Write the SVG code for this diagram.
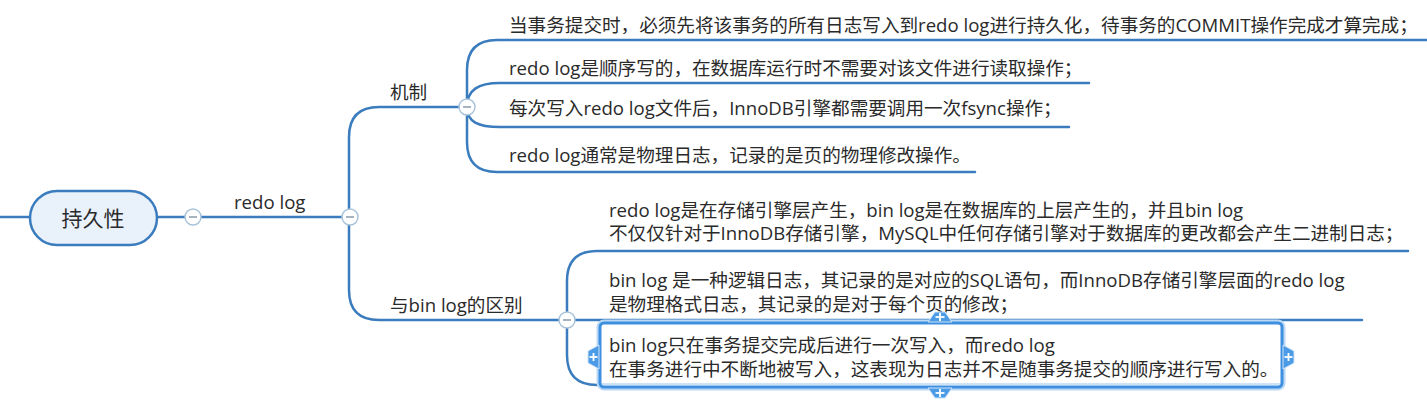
<svg xmlns="http://www.w3.org/2000/svg" width="1427" height="412" viewBox="0 0 1427 412">
<style>
.ln{fill:none;stroke:#3a7cbd;stroke-width:2.5;stroke-linecap:round}
.t{font-family:"Open Sans","Noto Sans CJK SC",sans-serif;font-size:18.6px;fill:#2a2a2a}
.lb{font-family:"Open Sans","Noto Sans CJK SC",sans-serif;font-size:18.6px;fill:#2a2a2a}
.cc{fill:#fff;stroke:#a9c3da;stroke-width:1.5}
.cm{stroke:#8a9aa8;stroke-width:1.5}
.tab{fill:#4b9be6;stroke:#cfe4f8;stroke-width:1}
.tp{stroke:#fff;stroke-width:1.8}
</style>
<rect width="1427" height="412" fill="#fff"/>
<g id="connectors">
<path class="ln" d="M0,217 L30,217"/>
<path class="ln" d="M157,217 L350,217"/>
<path class="ln" d="M349,217 L349,137 Q349,107 379,107 L467,107"/>
<path class="ln" d="M349,217 L349,290 Q349,320 379,320 L567,320"/>
<path class="ln" d="M467,107 L467,70 Q467,40 497,40 L1427,40"/>
<path class="ln" d="M467,107 C467,90 478,83 500,83 L1089,83"/>
<path class="ln" d="M467,107 C467,122 478,127 500,127 L1069,127"/>
<path class="ln" d="M467,107 L467,142 Q467,172 497,172 L975,172"/>
<path class="ln" d="M567,320 L567,281 Q567,251 597,251 L1408,251"/>
<path class="ln" d="M567,320 L1362,320"/>
<path class="ln" d="M567,320 L567,355 Q567,385 597,385 L602,385"/>
</g>
<g id="root">
<rect x="30" y="191" width="127" height="54" rx="27" fill="#e9f2fb" stroke="#3a7cbd" stroke-width="2.5"/>
<text x="93" y="225.5" text-anchor="middle" class="t" style="font-size:21px">持久性</text>
</g>
<g id="c1"><circle class="cc" cx="193" cy="217" r="8"/><line class="cm" x1="189" y1="217" x2="197" y2="217"/></g>
<g id="redolog"><text x="234" y="208.5" class="lb">redo log</text></g>
<g id="c2"><circle class="cc" cx="350" cy="217" r="8"/><line class="cm" x1="346" y1="217" x2="354" y2="217"/></g>
<g id="jizhi"><text x="390" y="98.5" class="lb">机制</text></g>
<g id="c3"><circle class="cc" cx="467" cy="107" r="8"/><line class="cm" x1="463" y1="107" x2="471" y2="107"/></g>
<g id="qubie"><text x="390" y="311.5" class="lb">与bin log的区别</text></g>
<g id="c4"><circle class="cc" cx="567" cy="320" r="8"/><line class="cm" x1="563" y1="320" x2="571" y2="320"/></g>
<g id="m1"><text x="509" y="31.5" class="t">当事务提交时，必须先将该事务的所有日志写入到redo log进行持久化，待事务的COMMIT操作完成才算完成；</text></g>
<g id="m2"><text x="509" y="74.5" class="t">redo log是顺序写的，在数据库运行时不需要对该文件进行读取操作；</text></g>
<g id="m3"><text x="509" y="114.5" class="t">每次写入redo log文件后，InnoDB引擎都需要调用一次fsync操作；</text></g>
<g id="m4"><text x="509" y="161.5" class="t">redo log通常是物理日志，记录的是页的物理修改操作。</text></g>
<g id="d1">
<text x="609" y="216.5" class="t">redo log是在存储引擎层产生，bin log是在数据库的上层产生的，并且bin log</text>
<text x="609" y="240" class="t">不仅仅针对于InnoDB存储引擎，MySQL中任何存储引擎对于数据库的更改都会产生二进制日志；</text>
</g>
<g id="d2">
<text x="609" y="287" class="t">bin log 是一种逻辑日志，其记录的是对应的SQL语句，而InnoDB存储引擎层面的redo log</text>
<text x="609" y="310.5" class="t">是物理格式日志，其记录的是对于每个页的修改；</text>
</g>
<g id="d3">
<rect x="598" y="321" width="686" height="68" rx="6" fill="none" stroke="#b9d8f5" stroke-width="3"/>
<rect x="600" y="323" width="682" height="64" rx="4" fill="#fff" stroke="#3f8fe0" stroke-width="3"/>
<line x1="602" y1="384" x2="1280" y2="384" stroke="#9cc7f0" stroke-width="1"/>
<text x="609" y="352" class="t">bin log只在事务提交完成后进行一次写入，而redo log</text>
<text x="609" y="375.5" class="t">在事务进行中不断地被写入，这表现为日志并不是随事务提交的顺序进行写入的。</text>
<path class="tab" d="M928,322 L935,312 L945,312 L952,322 Z"/>
<line class="tp" x1="935.5" y1="317" x2="944.5" y2="317"/><line class="tp" x1="940" y1="313" x2="940" y2="321"/>
<path class="tab" d="M928,388 L935,398 L945,398 L952,388 Z"/>
<line class="tp" x1="935.5" y1="393" x2="944.5" y2="393"/><line class="tp" x1="940" y1="389" x2="940" y2="397"/>
<path class="tab" d="M599,345 L588,351 L588,363 L599,369 Z"/>
<line class="tp" x1="589.5" y1="357" x2="597.5" y2="357"/><line class="tp" x1="593.5" y1="353" x2="593.5" y2="361"/>
<path class="tab" d="M1283,345 L1294,351 L1294,363 L1283,369 Z"/>
<line class="tp" x1="1284.5" y1="357" x2="1292.5" y2="357"/><line class="tp" x1="1288.5" y1="353" x2="1288.5" y2="361"/>
</g>
</svg>
